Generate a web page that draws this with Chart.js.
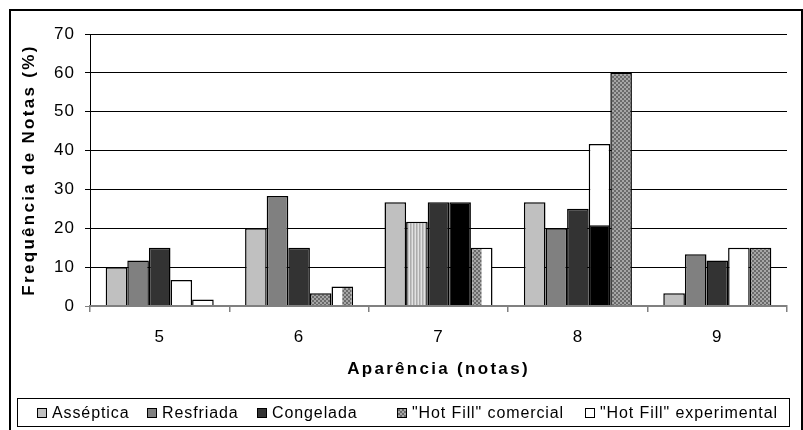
<!DOCTYPE html>
<html>
<head>
<meta charset="utf-8">
<script src="https://cdn.jsdelivr.net/npm/chart.js@4.4.1/dist/chart.umd.min.js"></script>
<style>
  html, body { margin: 0; padding: 0; background: #fff; width: 803px; height: 430px; overflow: hidden; }
  #wrap { position: relative; width: 803px; height: 430px; }
  #c { position: absolute; left: 0; top: 0; }
  #frame { position: absolute; left: 9px; top: 9px; width: 790px; height: 500px; border: 2px solid #000; pointer-events: none; }
  #legend { position: absolute; left: 17px; top: 398px; width: 773px; height: 29px; box-sizing: border-box;
            border: 1px solid #000; font: 16px 'Liberation Sans', Arial, sans-serif; letter-spacing: 0.9px; color: #000; }
  .item { position: absolute; top: 0; height: 100%; display: flex; align-items: center; white-space: nowrap; }
  .box { width: 8px; height: 8px; border: 1px solid #000; margin-right: 5px; flex: none; }
</style>
</head>
<body>
<div id="wrap">
  <canvas id="c" width="803" height="430"></canvas>
  <div id="frame"></div>
  <div id="legend"></div>
</div>
<script>
// Grades on the x axis and the share of each grade per sample type (%)
const categories = ['5', '6', '7', '8', '9'];
const seriesNames = ['Asséptica', 'Resfriada', 'Congelada', '"Hot Fill" comercial', '"Hot Fill" experimental'];
const asseptica = [10, 20, 26.7, 26.7, 3.3];
const resfriada = [11.7, 28.3, 21.7, 20, 13.3];
const congelada = [15, 15, 26.7, 25, 11.7];
const hotFillComercial = [6.7, 3.3, 26.7, 41.7, 15];
const hotFillExperimental = [1.7, 5, 15, 60, 15];
// lower part of the "Hot Fill" comercial bar at grade 8, filled black
const hotFillComercialBase = [null, null, null, 20.8, null];
const yTickValues = [0, 10, 20, 30, 40, 50, 60, 70];

// fill of every bar, by series
const fillsAsseptica = ['light', 'light', 'light', 'light', 'light'];
const fillsResfriada = ['mid', 'mid', 'stripe', 'mid', 'mid'];
const fillsCongelada = ['dark', 'dark', 'dark', 'dark', 'dark'];
const fillsComercial = ['white', 'check', 'black', 'white', 'white'];
const fillsExperimental = ['white', 'white|check', 'check|white', 'check', 'check'];
const legendFills = ['light', 'mid', 'dark', 'check', 'white'];
const legendLeft = [19, 129, 239, 379, 567];

const FONT = "'Liberation Sans', Arial, sans-serif";
const canvas = document.getElementById('c');
const ctx0 = canvas.getContext('2d');

function makeTile(w, h, paint) {
  const t = document.createElement('canvas');
  t.width = w; t.height = h;
  paint(t.getContext('2d'));
  return t;
}
const checkTile = makeTile(4, 4, g => {
  g.fillStyle = '#a6a6a6'; g.fillRect(0, 0, 4, 4);
  g.fillStyle = '#6a6a6a'; g.fillRect(0, 0, 2, 2); g.fillRect(2, 2, 2, 2);
});
const stripeTile = makeTile(3, 1, g => {
  g.fillStyle = '#c4c4c4'; g.fillRect(0, 0, 1, 1);
  g.fillStyle = '#e2e2e2'; g.fillRect(1, 0, 1, 1);
  g.fillStyle = '#acacac'; g.fillRect(2, 0, 1, 1);
});
const fillTable = {
  light: '#c0c0c0',
  mid: '#808080',
  dark: '#333333',
  black: '#000000',
  white: '#ffffff',
  check: ctx0.createPattern(checkTile, 'repeat'),
  stripe: ctx0.createPattern(stripeTile, 'repeat')
};
const cssFill = {
  light: '#c0c0c0', mid: '#808080', dark: '#333333', black: '#000', white: '#fff',
  check: 'url(' + checkTile.toDataURL() + ')', stripe: 'url(' + stripeTile.toDataURL() + ')'
};
function fillOf(key) {
  return key.includes('|') ? fillTable.white : fillTable[key];
}

const BW = 1.5;
function barSet(label, data, fills, stack) {
  return {
    label, data, stack,
    fillKeys: fills,
    backgroundColor: fills.map(fillOf),
    borderColor: '#000',
    borderWidth: BW
  };
}

const datasets = [
  barSet(seriesNames[0], asseptica, fillsAsseptica, 's1'),
  barSet(seriesNames[1], resfriada, fillsResfriada, 's2'),
  barSet(seriesNames[2], congelada, fillsCongelada, 's3'),
  barSet('base', hotFillComercialBase, ['black', 'black', 'black', 'black', 'black'], 's4'),
  barSet(seriesNames[3], hotFillComercial, fillsComercial, 's4'),
  barSet(seriesNames[4], hotFillExperimental, fillsExperimental, 's5')
];

// bars filled with two different halves
const splitBars = {
  id: 'splitBars',
  afterDatasetsDraw(chart) {
    const ctx = chart.ctx;
    chart.data.datasets.forEach((ds, i) => {
      const meta = chart.getDatasetMeta(i);
      ds.fillKeys.forEach((key, j) => {
        if (!key.includes('|') || ds.data[j] == null) return;
        const [l, r] = key.split('|');
        const el = meta.data[j];
        const p = el.getProps(['x', 'y', 'base', 'width'], true);
        const left = p.x - p.width / 2 + BW, right = p.x + p.width / 2 - BW;
        const top = p.y + BW, bottom = p.base;
        ctx.save();
        ctx.fillStyle = fillTable[l];
        ctx.fillRect(left, top, p.x - left, bottom - top);
        ctx.fillStyle = fillTable[r];
        ctx.fillRect(p.x, top, right - p.x, bottom - top);
        ctx.restore();
      });
    });
  }
};

// wider letter spacing for axis text, wider still for axis titles
const spacing = {
  id: 'spacing',
  beforeDraw(chart) {
    chart.ctx.letterSpacing = '1px';
    Object.values(chart.scales).forEach(s => {
      if (s._wideTitle) return;
      const orig = s.drawTitle;
      s.drawTitle = function (...args) {
        this.ctx.save();
        this.ctx.letterSpacing = '2.3px';
        orig.apply(this, args);
        this.ctx.restore();
      };
      s._wideTitle = true;
    });
  }
};

new Chart(ctx0, {
  type: 'bar',
  data: { labels: categories, datasets },
  plugins: [spacing, splitBars],
  options: {
    responsive: false,
    animation: false,
    devicePixelRatio: 1,
    layout: { padding: { left: 0, right: 16, top: 34, bottom: 0 } },
    datasets: { bar: { categoryPercentage: 0.775, barPercentage: 1 } },
    plugins: { legend: { display: false }, tooltip: { enabled: false } },
    scales: {
      x: {
        stacked: true,
        afterFit(scale) { scale.height = 124; },
        grid: { drawOnChartArea: false, drawTicks: true, tickLength: 6, color: '#808080', lineWidth: 1.5 },
        border: { display: true, color: '#808080', width: 2, z: 1 },
        ticks: { color: '#000', font: { family: FONT, size: 17 }, padding: 15 },
        title: {
          display: true, text: 'Aparência (notas)', color: '#000',
          font: { family: FONT, size: 17, weight: 'bold' },
          padding: { top: 0, bottom: 50 }
        }
      },
      y: {
        stacked: false,
        min: 0, max: 70,
        afterFit(scale) { scale.width = 90; },
        afterBuildTicks(scale) { scale.ticks = yTickValues.map(v => ({ value: v })); },
        grid: {
          color: c => (c.tick && c.tick.value === 0 ? '#808080' : '#000'),
          lineWidth: 1, tickLength: 5, drawTicks: true
        },
        border: { display: true, color: '#000', width: 1 },
        ticks: { color: '#000', font: { family: FONT, size: 17 }, padding: 10, callback: v => String(v) },
        title: {
          display: true, text: 'Frequência de Notas (%)', color: '#000',
          font: { family: FONT, size: 17, weight: 'bold' },
          padding: { top: 19, bottom: 0 }
        }
      }
    }
  }
});

// legend row, built from the series names
const legend = document.getElementById('legend');
seriesNames.forEach((name, i) => {
  const item = document.createElement('div');
  item.className = 'item';
  item.style.left = legendLeft[i] + 'px';
  const box = document.createElement('span');
  box.className = 'box';
  box.style.background = cssFill[legendFills[i]];
  const txt = document.createElement('span');
  txt.textContent = name;
  item.appendChild(box);
  item.appendChild(txt);
  legend.appendChild(item);
});
</script>
</body>
</html>
